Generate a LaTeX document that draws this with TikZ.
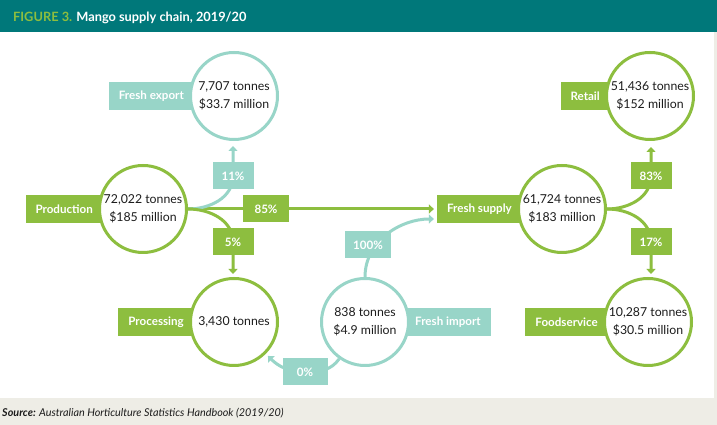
\documentclass[tikz,border=0pt]{standalone}
\usepackage{fontspec}
\setmainfont{Lato}
\usetikzlibrary{arrows.meta,backgrounds}
\definecolor{headteal}{HTML}{00787A}
\definecolor{leaf}{HTML}{8DBE3F}
\definecolor{mint}{HTML}{98D5C8}
\definecolor{sand}{HTML}{EEEDE6}
\definecolor{ink}{HTML}{1C1C1C}

\begin{document}
\begin{tikzpicture}[x=1pt,y=1pt,stage/.style={circle,draw=#1,line width=3pt,fill=white,minimum size=87pt,inner sep=0pt,align=center,text=ink,font=\fontsize{12.3}{18}\selectfont},tag/.style={fill=#1,text=white,minimum height=28pt,inner xsep=10pt,font=\fontsize{11.6}{13}\selectfont\bfseries},share/.style={fill=#1,text=white,minimum height=27pt,minimum width=41pt,inner sep=0pt,font=\fontsize{11.6}{13}\selectfont\bfseries},flow/.style={draw=#1,line width=3pt,-{Triangle[length=5pt,width=9pt]}}]
  \useasboundingbox (0,0) rectangle (717,425);
  \begin{scope}[on background layer]
    \fill[sand] (0,0) rectangle (717,425);
    \fill[white] (0,27) rectangle (714,393);
    \fill[headteal] (0,393) rectangle (717,425);
  \end{scope}
  \node[anchor=base west,inner sep=0pt,text=white,font=\fontsize{12.8}{15}\selectfont\bfseries] (title) at (13,403) {\textcolor{leaf}{FIGURE 3.} Mango supply chain, 2019/20};
  \node[anchor=base west,inner sep=0pt,text=ink,font=\fontsize{10.8}{12}\selectfont\itshape] (source) at (2,8) {\textbf{Source:} Australian Horticulture Statistics Handbook (2019/20)};
  \node[stage=leaf] (prod) at (143,216) {72,022 tonnes\\\$185 million};
  \node[stage=mint] (export) at (234,329) {7,707 tonnes\\\$33.7 million};
  \node[stage=leaf] (proc) at (234,103) {3,430 tonnes};
  \node[stage=mint] (import) at (365,103) {838 tonnes\\\$4.9 million};
  \node[stage=leaf] (supply) at (562,216) {61,724 tonnes\\\$183 million};
  \node[stage=leaf] (retail) at (650,329) {51,436 tonnes\\\$152 million};
  \node[stage=leaf] (food) at (648,103) {10,287 tonnes\\\$30.5 million};
  \node[share=mint] (s11) at (233,249) {11\%};
  \node[share=leaf,minimum width=46pt] (s85) at (266,216) {85\%};
  \node[share=leaf] (s5) at (233,183) {5\%};
  \node[share=mint,minimum width=46pt] (s100) at (368,180) {100\%};
  \node[share=mint,minimum width=45pt] (s0) at (305,53) {0\%};
  \node[share=leaf] (s83) at (651,249) {83\%};
  \node[share=leaf] (s17) at (651,183) {17\%};
  \begin{scope}[on background layer]
    \node[tag=leaf,anchor=east] (prodtag) at ([xshift=5pt]prod.west) {Production};
    \node[tag=mint,anchor=east] (exporttag) at ([xshift=5pt]export.west) {Fresh export};
    \node[tag=leaf,anchor=east] (proctag) at ([xshift=5pt]proc.west) {Processing};
    \node[tag=mint,anchor=west] (importtag) at ([xshift=-5pt]import.east) {Fresh import};
    \node[tag=leaf,anchor=east] (supplytag) at ([xshift=5pt]supply.west) {Fresh supply};
    \node[tag=leaf,anchor=east] (retailtag) at ([xshift=5pt]retail.west) {Retail};
    \node[tag=leaf,anchor=east] (foodtag) at ([xshift=5pt]food.west) {Foodservice};
    \draw[flow=leaf,shorten >=3pt] (prod.east) -- (supplytag.west);
    \draw[flow=mint,shorten >=5pt] (prod.east) to[out=0,in=-90] (s11.center) -- (s11 |- export.south);
    \draw[flow=leaf,shorten >=3pt] (prod.east) to[out=0,in=90] (s5.center) -- (s5 |- proc.north);
    \draw[flow=mint,shorten >=3pt] (import.north) to[out=90,in=180] ([yshift=-10pt]supplytag.west);
    \draw[flow=mint,shorten >=3pt] (import.235) to[out=235,in=0] (s0.center) to[out=180,in=-45] (proc.-45);
    \draw[flow=leaf,shorten >=6pt] (supply.east) to[out=0,in=-90] (s83.center) -- (s83 |- retail.south);
    \draw[flow=leaf,shorten >=3pt] (supply.east) to[out=0,in=90] (s17.center) -- (s17 |- food.north);
  \end{scope}
\end{tikzpicture}
\end{document}
